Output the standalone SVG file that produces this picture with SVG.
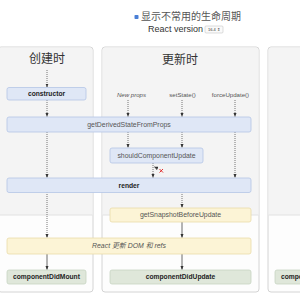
<svg xmlns="http://www.w3.org/2000/svg" width="300" height="300" viewBox="0 0 300 300">
<style>
.col{fill:#fdfdfd;stroke:#d4d4d4;stroke-width:1}
.colg{fill:#f4f4f4}
.sep{stroke:#e2e2e2;stroke-width:1}
.blue{fill:#dfe7f6;stroke:#b4c5e6;stroke-width:0.8}
.yel{fill:#fcf4d6;stroke:#eadca8;stroke-width:0.8}
.grn{fill:#dfe7da;stroke:#c7d4c1;stroke-width:0.8}
.t{font-family:"Liberation Sans",Arial,sans-serif;font-size:6.9px;fill:#555;text-anchor:middle}
.s{font-size:6.1px}
.b{font-weight:bold;fill:#222;font-size:6.7px}
.i{font-style:italic}
.st{text-anchor:start}
.h{font-family:"Noto Sans CJK SC","Noto Sans",sans-serif;font-size:12px;fill:#333;text-anchor:middle}
.dot{stroke:#555;stroke-width:0.8;stroke-dasharray:1,1;fill:none}
.sol{stroke:#444;stroke-width:0.8;fill:none}
</style>
<defs>
<marker id="a" markerWidth="4" markerHeight="4" refX="3.5" refY="2" orient="auto" markerUnits="userSpaceOnUse">
<path d="M0,0.5 L4,2 L0,3.5 Z" fill="#333"/>
</marker>
</defs>
<rect width="300" height="300" fill="#fff"/>
<g id="header">
<rect x="134.5" y="15" width="4" height="4" rx="0.8" fill="#4a7fd6"/>
<text x="141" y="20" font-family="Noto Sans CJK SC,sans-serif" font-size="10" fill="#555">显示不常用的生命周期</text>
<text x="148" y="32" font-family="Liberation Sans,Arial,sans-serif" font-size="9" fill="#333">React version</text>
<rect x="205" y="26" width="18" height="7" rx="1" fill="#fafafa" stroke="#bbb" stroke-width="0.5"/>
<text x="214" y="31.3" font-family="Liberation Sans,Arial,sans-serif" font-size="4" fill="#333" text-anchor="middle">16.4 ⇕</text>
</g>
<g id="col-mount">
<rect class="col" x="-2" y="47" width="95" height="245" rx="3"/>
<path class="colg" d="M-1.5,50 a2.5,2.5 0 0 1 2.5,-2.5 H90 a2.5,2.5 0 0 1 2.5,2.5 V215 H-1.5 Z"/>
<line class="sep" x1="-1.5" y1="215" x2="92.5" y2="215"/>
<text class="h" x="47" y="63">创建时</text>
</g>
<g id="col-update">
<rect class="col" x="102" y="47" width="157" height="245" rx="3"/>
<path class="colg" d="M102.5,50 a2.5,2.5 0 0 1 2.5,-2.5 H256 a2.5,2.5 0 0 1 2.5,2.5 V215 H102.5 Z"/>
<line class="sep" x1="102.5" y1="215" x2="258.5" y2="215"/>
<text class="h" x="180" y="63.5">更新时</text>
</g>
<g id="col-unmount">
<rect class="col" x="268" y="47" width="40" height="245" rx="3"/>
<path class="colg" d="M268.5,50 a2.5,2.5 0 0 1 2.5,-2.5 H307 V215 H268.5 Z"/>
<line class="sep" x1="268.5" y1="215" x2="307" y2="215"/>
</g>
<g id="triggers">
<text class="t s i" x="131.5" y="97">New props</text>
<text class="t s" x="182.5" y="97">setState()</text>
<text class="t s" x="230.5" y="97">forceUpdate()</text>
</g>
<g id="connectors">
<line class="dot" x1="47" y1="70" x2="47" y2="87" marker-end="url(#a)"/>
<line class="dot" x1="47" y1="100" x2="47" y2="116.5" marker-end="url(#a)"/>
<line class="dot" x1="128" y1="100" x2="128" y2="116.5" marker-end="url(#a)"/>
<line class="dot" x1="182" y1="100" x2="182" y2="116.5" marker-end="url(#a)"/>
<line class="dot" x1="235" y1="100" x2="235" y2="116.5" marker-end="url(#a)"/>
<line class="dot" x1="47" y1="132" x2="47" y2="177.5" marker-end="url(#a)"/>
<line class="dot" x1="128" y1="132" x2="128" y2="147.5" marker-end="url(#a)"/>
<line class="dot" x1="182" y1="132" x2="182" y2="147.5" marker-end="url(#a)"/>
<line class="dot" x1="235" y1="132" x2="235" y2="177.5" marker-end="url(#a)"/>
<line class="dot" x1="153" y1="163" x2="153" y2="177.5" marker-end="url(#a)"/>
<path class="sol" d="M157,170 Q156,167.5 154.5,167" marker-end="url(#a)"/>
<path d="M159.5,169 L163,172.5 M163,169 L159.5,172.5" stroke="#e03030" stroke-width="1"/>
<line class="dot" x1="47" y1="192" x2="47" y2="237.5" marker-end="url(#a)"/>
<line class="dot" x1="182" y1="192" x2="182" y2="207.5" marker-end="url(#a)"/>
<line class="sol" x1="182" y1="222" x2="182" y2="237.5" marker-end="url(#a)"/>
<line class="sol" x1="47" y1="254" x2="47" y2="269.5" marker-end="url(#a)"/>
<line class="sol" x1="182" y1="254" x2="182" y2="269.5" marker-end="url(#a)"/>
</g>
<g id="constructor">
<rect class="blue" x="7" y="87.5" width="79" height="12.5" rx="2"/>
<text class="t b" x="46.5" y="96.2">constructor</text>
</g>
<g id="getDerivedStateFromProps">
<rect class="blue" x="7" y="117" width="244" height="15" rx="2"/>
<text class="t" x="129" y="126.8">getDerivedStateFromProps</text>
</g>
<g id="shouldComponentUpdate">
<rect class="blue" x="110" y="148" width="93" height="15" rx="2"/>
<text class="t" x="156.5" y="157.8">shouldComponentUpdate</text>
</g>
<g id="render">
<rect class="blue" x="7" y="178" width="244" height="14.5" rx="2"/>
<text class="t b" x="129" y="187.6">render</text>
</g>
<g id="getSnapshotBeforeUpdate">
<rect class="yel" x="110" y="208" width="141" height="14" rx="2"/>
<text class="t" x="180.5" y="217.4">getSnapshotBeforeUpdate</text>
</g>
<g id="reactUpdatesDom">
<rect class="yel" x="7" y="238" width="244" height="16" rx="2"/>
<text class="t i" x="129" y="248.3">React <tspan font-family="Noto Sans CJK SC,sans-serif">更新</tspan> DOM <tspan font-family="Noto Sans CJK SC,sans-serif">和</tspan> refs</text>
</g>
<g id="componentDidMount">
<rect class="grn" x="7" y="270" width="79" height="14" rx="2"/>
<text class="t b" x="46.5" y="279.4">componentDidMount</text>
</g>
<g id="componentDidUpdate">
<rect class="grn" x="110" y="270" width="141" height="14" rx="2"/>
<text class="t b" x="180.5" y="279.4">componentDidUpdate</text>
</g>
<g id="componentWillUnmount">
<rect class="grn" x="275" y="270" width="80" height="14" rx="2"/>
<text class="t b st" x="281" y="279.4">componentWillUnmount</text>
</g>
</svg>
